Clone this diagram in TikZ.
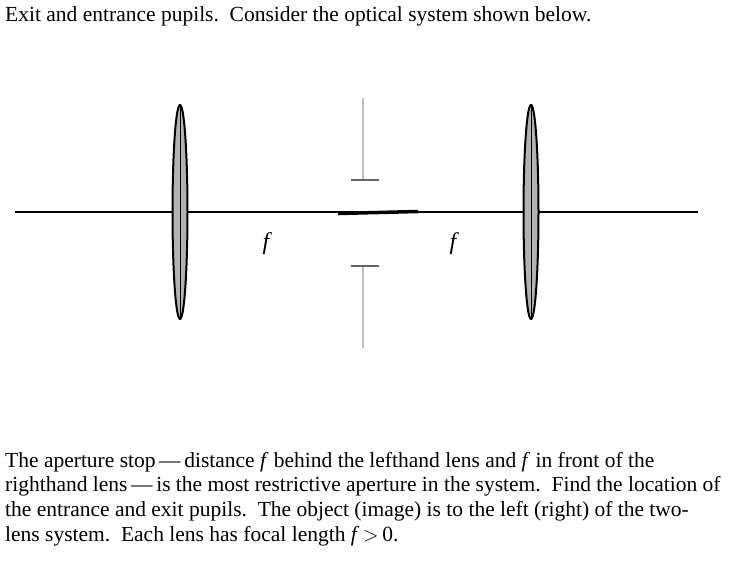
\documentclass[tikz,border=0pt]{standalone}
\usepackage{fontspec}
\usetikzlibrary{shapes.geometric}
\setmainfont{Liberation Serif}
\begin{document}
\begin{tikzpicture}[x=1pt,y=-1pt,
  txt/.style={anchor=north west,inner sep=0pt,font=\fontsize{21.5}{24.6}\selectfont,align=left},
  lensshape/.style={fill=gray!60,draw=black,line width=2pt},
  stopline/.style={draw=gray!50,line width=1.2pt},
  stoptick/.style={draw=gray!80!black,line width=1.2pt}]
\useasboundingbox (0,0) rectangle (737,561);
\node[txt] (title) at (5,6) {Exit and entrance pupils.\ \ Consider the optical system shown below.};
\coordinate (axL) at (15,212); \coordinate (axR) at (698,212);
\draw[line width=2.2pt] (axL) -- (axR);
\node[lensshape,ellipse,minimum width=15pt,minimum height=214pt,inner sep=0pt] (lens1) at (180,212) {};
\node[lensshape,ellipse,minimum width=15pt,minimum height=214pt,inner sep=0pt] (lens2) at (531,212) {};
\draw[line width=1pt] (lens1.north) -- (lens1.south);
\draw[line width=1pt] (lens2.north) -- (lens2.south);
\coordinate (s1) at (363,98); \coordinate (s2) at (363,180);
\coordinate (s3) at (363,266); \coordinate (s4) at (363,348);
\draw[stopline] (s1) -- (s2); \draw[stopline] (s3) -- (s4);
\draw[stoptick] (351,180) -- (379,180); \draw[stoptick] (351,266) -- (379,266);
\coordinate (b1) at (338,213.5); \coordinate (b2) at (418,211.5);
\draw[line width=3.5pt] (b1) -- (b2);
\node[font=\fontsize{24}{26}\selectfont\itshape] (f1) at (266,244) {f};
\node[font=\fontsize{24}{26}\selectfont\itshape] (f2) at (453,244) {f};
\node[txt] (body) at (5,452) {The aperture stop\,---\,distance \textit{f} behind the lefthand lens and \textit{f} in front of the\\
righthand lens\,---\,is the most restrictive aperture in the system.\ \ Find the location of\\
the entrance and exit pupils.\ \ The object (image) is to the left (right) of the two-\\
lens system.\ \ Each lens has focal length \textit{f}\,$>$\,0.};
\end{tikzpicture}
\end{document}
